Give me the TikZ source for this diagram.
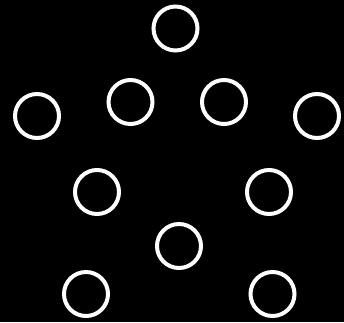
\documentclass[tikz,border=0pt]{standalone}
\begin{document}
\begin{tikzpicture}[x=1pt,y=-1pt,
  ring/.style={circle,draw=white,line width=4pt,minimum size=44pt,inner sep=0pt}]
\fill[black] (0,0) rectangle (344,322);
\useasboundingbox (0,0) rectangle (344,322);
\node[ring] (c1) at (175.5,28.5) {};
\node[ring] (c2) at (130.5,102) {};
\node[ring] (c3) at (224,102) {};
\node[ring] (c4) at (37,116) {};
\node[ring] (c5) at (317,116) {};
\node[ring] (c6) at (97,192) {};
\node[ring] (c7) at (269,192) {};
\node[ring] (c8) at (179,246) {};
\node[ring] (c9) at (86,294) {};
\node[ring] (c10) at (272.5,294) {};
\end{tikzpicture}
\end{document}
